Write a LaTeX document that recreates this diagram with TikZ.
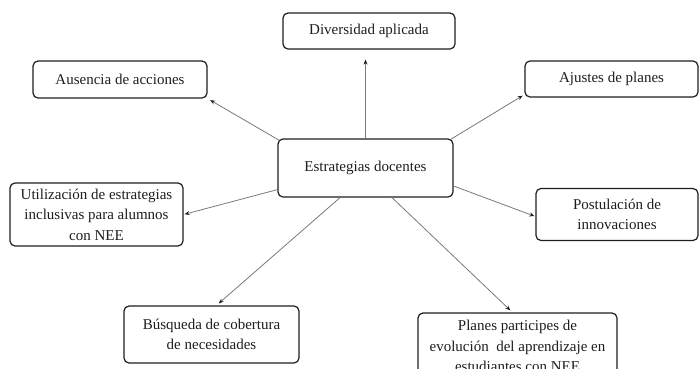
\documentclass[tikz,border=0pt]{standalone}
\usepackage{fontspec}
\setmainfont{Liberation Serif}
\usetikzlibrary{arrows.meta}
\definecolor{ink}{HTML}{1E1E1E}
\definecolor{link}{HTML}{7A7A7A}
\tikzset{
  box/.style={draw=ink, line width=1.2pt, rounded corners=5pt, align=center,
    inner sep=0pt, text=ink, font=\fontsize{15}{20.5}\selectfont},
  conn/.style={draw=link, line width=0.8pt, -{Stealth[length=5pt,width=4pt,ink]}}
}
\begin{document}
\begin{tikzpicture}[x=1pt,y=-1pt]
\useasboundingbox[fill=white] (0,0) rectangle (699,368);
\node[box, minimum width=175pt, minimum height=58pt] (est) at (365.5,168) {Estrategias docentes};
\node[box, minimum width=172pt, minimum height=36pt] (div) at (369,31) {Diversidad aplicada};
\node[box, minimum width=174pt, minimum height=37pt] (aus) at (120,79.5) {Ausencia de acciones};
\node[box, minimum width=173pt, minimum height=36pt] (aju) at (611.5,79) {Ajustes de planes};
\node[box, minimum width=173pt, minimum height=63pt] (uti) at (96.5,214.5) {Utilización de estrategias\\inclusivas para alumnos\\con NEE};
\node[box, minimum width=162pt, minimum height=52pt] (pos) at (617,214.5) {Postulación de\\innovaciones};
\node[box, minimum width=175pt, minimum height=57pt] (bus) at (211.5,334.5) {Búsqueda de cobertura\\de necesidades};
\node[box, minimum width=199pt, minimum height=66pt] (pla) at (517.5,346) {Planes participes de\\evolución\ \ del aprendizaje en\\estudiantes con NEE};
\draw[conn, shorten >=10pt] (est.north) -- (est.north |- div.south);
\draw[conn, shorten >=3pt] ([xshift=2pt,yshift=-2pt]est.north west) -- (aus.south east);
\draw[conn, shorten >=2pt] ([xshift=-3pt,yshift=-1pt]est.north east) -- ([yshift=3pt]aju.south west);
\draw[conn, shorten >=1pt] ([yshift=8pt]est.south west) -- (uti.east);
\draw[conn, shorten >=3pt] ([xshift=-25.5pt]est.south) -- ([xshift=5pt]bus.north);
\draw[conn, shorten >=1pt] ([yshift=-18pt]est.east) -- ([yshift=-2pt]pos.west);
\draw[conn, shorten >=3pt] ([xshift=26.5pt]est.south) -- ([xshift=-5pt]pla.north);
\end{tikzpicture}
\end{document}
